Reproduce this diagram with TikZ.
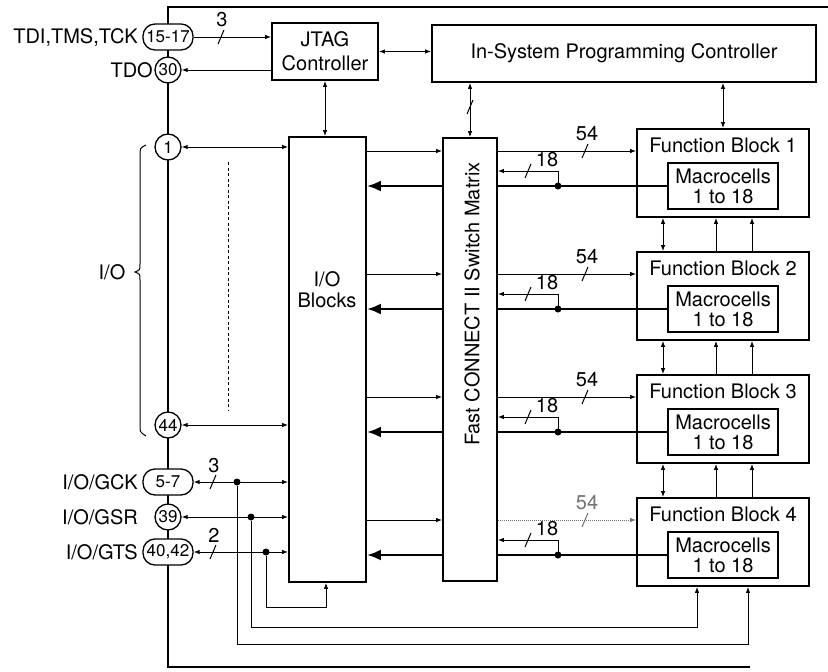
\documentclass[tikz,border=0pt]{standalone}
\usepackage{fontspec}
\setmainfont{TeX Gyre Heros}
\usetikzlibrary{arrows.meta}
\newcommand\labfont{\fontsize{20}{22}\selectfont}
\newcommand\mcfont{\fontsize{20}{20}\selectfont}
\newcommand\pinfont{\fontsize{17}{17}\selectfont}
\newcommand\busmark[2]{\draw[line width=1pt] (#1-3,#2+7) -- (#1+3,#2-7);}
\newcommand\FBrow[4]{%
  \node[box, minimum width=172pt, minimum height=88pt] (fb#1) at (723,#2+44) {};
  \node[lab] at (723,#2+16) {Function Block #1};
  \node[box, minimum width=110pt, minimum height=46pt, align=center, font=\mcfont] (mc#1) at (723,#2+57) {Macrocells\\1 to 18};
  \coordinate (ra#1) at (0,#2+22);
  \coordinate (dt#1) at (558,#2+57);
  \coordinate (fk#1) at (558,#2+42);
  \draw[thinl,->] (io.east |- ra#1) -- (sm.west |- ra#1);
  \draw[thickl,bigtip] (sm.west |- mc#1.west) -- (io.east |- mc#1.west);
  \draw[thinl,->,#3] (sm.east |- ra#1) -- (fb#1.west |- ra#1);
  \begin{scope}[#4]\busmark{585}{#2+22}\end{scope}
  \node[lab,#4] at (587,#2+5) {54};
  \draw[thickl] (mc#1.west) -- (sm.east |- mc#1.west);
  \draw[thinl,->] (dt#1) -- (fk#1) -- (fk#1 -| sm.east);
  \busmark{528}{#2+42}
  \node[lab] at (547,#2+31) {18};
  \fill (dt#1) circle (3.5pt);
}
\begin{document}
\begin{tikzpicture}[x=1pt,y=-1pt,
  >={Latex[length=6pt,width=4.5pt]},
  box/.style={draw, line width=1.7pt, fill=white, inner sep=0pt},
  thinl/.style={line width=1pt},
  thickl/.style={line width=2.6pt},
  bigtip/.style={-{Latex[length=14pt,width=11pt]}},
  oval/.style={draw, line width=1.3pt, fill=white, rounded corners=12pt, minimum width=50pt, minimum height=26pt, inner sep=1pt, font=\pinfont},
  pinc/.style={draw, circle, line width=1.3pt, fill=white, minimum size=26pt, inner sep=0pt, font=\pinfont},
  lab/.style={font=\labfont, inner sep=0pt},
  dotn/.style={circle, fill, inner sep=0pt, minimum size=7pt}
]
\fill[white] (0,0) rectangle (828,672);
\useasboundingbox (0,0) rectangle (828,672);

% frame
\draw[line width=2pt] (828,7) -- (168,7) -- (168,667) -- (750,667);

% main boxes
\node[box, minimum width=106pt, minimum height=57pt, align=center, font=\fontsize{20}{24}\selectfont] (jtag) at (325,51.5) {JTAG\\Controller};
\node[box, minimum width=384pt, minimum height=57pt, font=\labfont] (isp) at (624,53.5) {In-System Programming Controller};
\node[box, minimum width=77pt, minimum height=445pt] (io) at (327.5,359.5) {};
\node[lab, align=center, font=\fontsize{20}{21}\selectfont] at (327,290) {I/O\\Blocks};
\node[box, minimum width=54pt, minimum height=443pt] (sm) at (470,359.5) {};
\node[lab, rotate=90] at (472,304) {Fast CONNECT II Switch Matrix};

% function blocks
\FBrow{1}{129}{}{}
\FBrow{2}{252}{}{}
\FBrow{3}{375}{}{}
\FBrow{4}{498}{densely dotted,black!55}{black!55}

\coordinate (xa) at (663,0);
\coordinate (xb) at (716,0);
\coordinate (xc) at (752,0);
\foreach \u/\l in {1/2,2/3,3/4}{
  \draw[thinl,<->] (xa |- fb\u.south) -- (xa |- fb\l.north);
  \draw[thinl,->] (xb |- fb\l.north) -- (xb |- fb\u.south);
  \draw[thinl,->] (xc |- fb\l.north) -- (xc |- fb\u.south);
}

% pins
\node[oval] (p15) at (168,37) {15-17};
\node[pinc] (p30) at (168,70) {30};
\node[pinc] (p1) at (168,147) {1};
\node[pinc] (p44) at (168,425) {44};
\node[oval] (p57) at (168,482) {5-7};
\node[pinc] (p39) at (168,517) {39};
\node[oval] (p40) at (168,552) {40,42};

\node[lab, anchor=east] at (138,37) {TDI,TMS,TCK};
\node[lab, anchor=east] at (153,70) {TDO};
\node[lab, anchor=east] at (138,482) {I/O/GCK};
\node[lab, anchor=east] at (138,517) {I/O/GSR};
\node[lab, anchor=east] at (138,552) {I/O/GTS};
\node[lab] at (112,272) {I/O};

% brace
\draw[thinl] (146,145) .. controls (140,148) .. (140,156) -- (140,264) .. controls (140,270) .. (135,272) .. controls (140,274) .. (140,280) -- (140,426) .. controls (140,432) .. (146,436);

% dotted
\draw[thinl, dash pattern=on 3pt off 2.5pt] (228,162) -- (228,410);

% top connectors
\draw[thinl,->] (p15.east) -- (p15.east -| jtag.west);
\busmark{221}{37}
\node[lab] at (222,20) {3};
\draw[thinl,->] (p30.east -| jtag.west) -- (p30.east);
\draw[thinl,<->] (jtag.east) -- (jtag.east -| isp.west);
\draw[thinl,<->] (jtag.south) -- (jtag.south |- io.north);
\draw[thinl,<->] (isp.south -| sm.north) -- (sm.north);
\busmark{470}{107}
\draw[thinl,<->] (isp.south -| fb1.north) -- (fb1.north);

% pin connectors
\draw[thinl,<->] (p1.east) -- (p1.east -| io.west);
\draw[thinl,<->] (p44.east) -- (p44.east -| io.west);
\draw[thinl,<->] (p57.east) -- (p57.east -| io.west);
\draw[thinl,<->] (p39.east) -- (p39.east -| io.west);
\draw[thinl,<->] (p40.east) -- (p40.east -| io.west);
\busmark{213}{482}
\node[lab] at (214,466) {3};
\busmark{213}{552}
\node[lab] at (214,535) {2};

% global lines
\node[dotn] (dgck) at (237,482) {};
\node[dotn] (dgsr) at (251,517) {};
\node[dotn] (dgts) at (266,552) {};
\coordinate (gck1) at (237,644);
\coordinate (gck2) at (748,644);
\coordinate (gsr1) at (251,627);
\coordinate (gsr2) at (697,627);
\coordinate (gts1) at (266,607);
\coordinate (gts2) at (326,607);
\draw[thinl,->] (dgck) -- (gck1) -- (gck2) -- (gck2 |- fb4.south);
\draw[thinl,->] (dgsr) -- (gsr1) -- (gsr2) -- (gsr2 |- fb4.south);
\draw[thinl,->] (dgts) -- (gts1) -- (gts2) -- (gts2 |- io.south);
\end{tikzpicture}
\end{document}
